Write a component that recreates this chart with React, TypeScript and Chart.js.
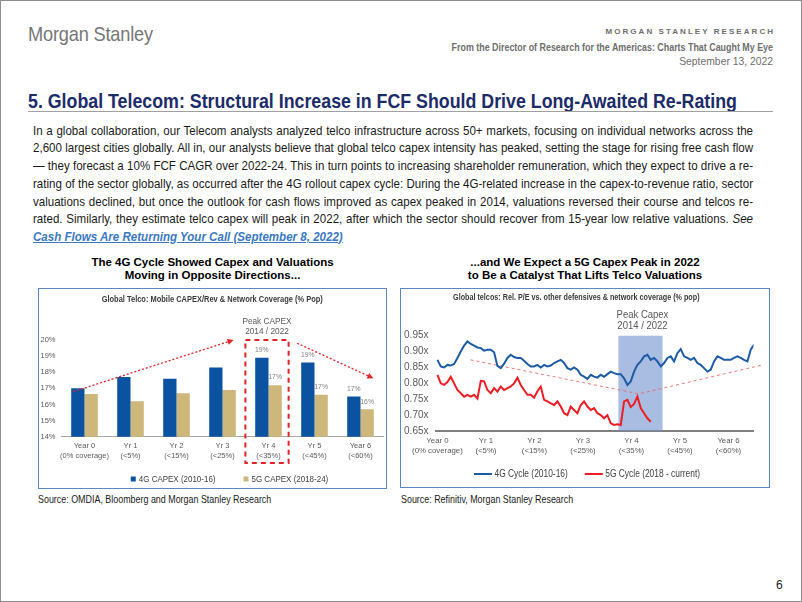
import React, { useEffect, useRef } from 'react';
import { Chart, registerables } from 'chart.js';

Chart.register(...registerables);

const SANS = '"Liberation Sans", Arial, sans-serif';
const GREY_TEXT = '#595959';
const RED = '#e3232a';

// ---------- Left chart: Global Telco Mobile CAPEX/Rev ----------
const CAPEX_TITLE = 'Global Telco: Mobile CAPEX/Rev & Network Coverage (% Pop)';
const CAPEX_CATEGORIES = [
  ['Year 0', '(0% coverage)'],
  ['Yr 1', '(<5%)'],
  ['Yr 2', '(<15%)'],
  ['Yr 3', '(<25%)'],
  ['Yr 4', '(<35%)'],
  ['Yr 5', '(<45%)'],
  ['Year 6', '(<60%)'],
];
const CAPEX_SERIES_NAMES = ['4G CAPEX (2010-16)', '5G CAPEX (2018-24)'];
const CAPEX_4G = [17.0, 17.7, 17.6, 18.3, 18.9, 18.6, 16.5];
const CAPEX_5G = [16.65, 16.2, 16.7, 16.9, 17.2, 16.6, 15.7];
const CAPEX_COLORS = ['#0b52a0', '#cdb77a'];
const CAPEX_Y_MIN = 14;
const CAPEX_Y_MAX = 20;
const CAPEX_LABEL_FROM = 4; // value labels shown from Yr 4 onwards
const CAPEX_PEAK_INDEX = 4;
const CAPEX_PEAK_TEXT = ['Peak CAPEX', '2014 / 2022'];
const CAPEX_ARROWS = [
  { from: [-0.24, 16.8], to: [3.24, 20.0] },
  { from: [4.62, 19.8], to: [6.28, 17.63] },
];

// ---------- Right chart: Rel. P/E ----------
const PE_TITLE = 'Global telcos: Rel. P/E vs. other defensives & network coverage (% pop)';
const PE_YEAR_LABELS = [
  ['Year 0', '(0% coverage)'],
  ['Yr 1', '(<5%)'],
  ['Yr 2', '(<15%)'],
  ['Yr 3', '(<25%)'],
  ['Yr 4', '(<35%)'],
  ['Yr 5', '(<45%)'],
  ['Year 6', '(<60%)'],
];
const PE_Y_TICKS = [0.65, 0.7, 0.75, 0.8, 0.85, 0.9, 0.95];
const PE_SERIES_NAMES = ['4G Cycle (2010-16)', '5G Cycle (2018 - current)'];
const PE_COLORS = ['#1d5ba6', '#ee1d24'];
const PE_STEP = 0.0687; // years between samples
const PE_4G = [
  0.874, 0.853, 0.850, 0.858, 0.856, 0.861, 0.880, 0.900, 0.919, 0.932,
  0.924, 0.919, 0.913, 0.911, 0.903, 0.906, 0.906, 0.898, 0.855, 0.848,
  0.862, 0.880, 0.890, 0.883, 0.880, 0.880, 0.871, 0.861, 0.853, 0.853,
  0.858,
  0.850, 0.858, 0.853, 0.856, 0.864, 0.869, 0.874, 0.864, 0.848, 0.843,
  0.850, 0.843, 0.827, 0.821, 0.814, 0.827, 0.821, 0.818, 0.827, 0.821,
  0.829, 0.837, 0.832, 0.829, 0.829, 0.816, 0.795, 0.806, 0.837, 0.858,
  0.869, 0.885, 0.890,
  0.874, 0.880, 0.869, 0.853, 0.864, 0.880, 0.885, 0.869, 0.895, 0.908,
  0.885, 0.880, 0.874, 0.880, 0.864, 0.858, 0.848, 0.837, 0.843, 0.869,
  0.885, 0.880, 0.874, 0.874, 0.874, 0.880, 0.885, 0.880, 0.874, 0.869,
  0.906, 0.922,
];
const PE_5G = [
  0.827, 0.800, 0.795, 0.804, 0.821, 0.800, 0.779, 0.769, 0.758, 0.764,
  0.758, 0.764, 0.752, 0.808, 0.806, 0.779, 0.769, 0.785, 0.774, 0.790,
  0.779, 0.785, 0.790, 0.800, 0.818, 0.795, 0.779, 0.764, 0.764, 0.755,
  0.775, 0.790,
  0.748, 0.743, 0.737, 0.732, 0.743, 0.727, 0.706, 0.700, 0.727, 0.716,
  0.706, 0.732, 0.743, 0.727, 0.716, 0.722, 0.706, 0.700, 0.690, 0.700,
  0.674, 0.669, 0.671, 0.669, 0.743, 0.748, 0.725, 0.735, 0.758, 0.722,
  0.706,
  0.690, 0.679,
];
const PE_PEAK_SPAN = [3.73, 4.64];
const PE_PEAK_TEXT = ['Peak Capex', '2014 / 2022'];
const PE_TREND = [
  [0.68, 0.874],
  [4.15, 0.767],
  [6.7, 0.858],
];

// ---------- Page text ----------
const BODY_LINES = [
  'In a global collaboration, our Telecom analysts analyzed telco infrastructure across 50+ markets, focusing on individual networks across the',
  '2,600 largest cities globally. All in, our analysts believe that global telco capex intensity has peaked, setting the stage for rising free cash flow',
  '\u2014 they forecast a 10% FCF CAGR over 2022-24. This in turn points to increasing shareholder remuneration, which they expect to drive a re-',
  'rating of the sector globally, as occurred after the 4G rollout capex cycle: During the 4G-related increase in the capex-to-revenue ratio, sector',
  'valuations declined, but once the outlook for cash flows improved as capex peaked in 2014, valuations reversed their course and telcos re-',
  'rated. Similarly, they estimate telco capex will peak in 2022, after which the sector should recover from 15-year low relative valuations.',
];
const LINK_TEXT = 'Cash Flows Are Returning Your Call (September 8, 2022)';

// condensed text on canvas (no narrow face installed)
function fillNarrow(ctx: any, text: string, x: number, y: number, font: string, sx: number, align: string) {
  ctx.save();
  ctx.font = font;
  ctx.textAlign = align;
  ctx.textBaseline = 'middle';
  ctx.translate(x, y);
  ctx.scale(sx, 1);
  ctx.fillText(text, 0, 0);
  ctx.restore();
}

function makeLegend(id: string, o: any) {
  return {
    id,
    afterDraw(chart: any) {
      const { ctx, chartArea } = chart;
      ctx.save();
      ctx.font = o.font;
      const items = chart.data.datasets.map((ds: any) => ({
        text: ds.label,
        color: o.symbol === 'line' ? ds.borderColor : ds.backgroundColor,
        w: ctx.measureText(ds.label).width * o.sx,
      }));
      const total =
        items.reduce((s: number, it: any) => s + o.symbolW + o.textGap + it.w, 0) +
        o.gap * (items.length - 1);
      let x = (chartArea.left + chartArea.right) / 2 + o.dx - total / 2;
      const y = chartArea.bottom + o.dy;
      items.forEach((it: any) => {
        if (o.symbol === 'line') {
          ctx.strokeStyle = it.color;
          ctx.lineWidth = 2;
          ctx.beginPath();
          ctx.moveTo(x, y);
          ctx.lineTo(x + o.symbolW, y);
          ctx.stroke();
        } else {
          ctx.fillStyle = it.color;
          ctx.fillRect(x, y - o.symbolW / 2, o.symbolW, o.symbolW);
        }
        x += o.symbolW + o.textGap;
        ctx.fillStyle = o.color;
        fillNarrow(ctx, it.text, x, y, o.font, o.sx, 'left');
        x += it.w + o.gap;
      });
      ctx.restore();
    },
  };
}

function makeTitle(id: string, text: string, cx: number, cy: number, sx: number) {
  return {
    id,
    afterDraw(chart: any) {
      const { ctx } = chart;
      ctx.save();
      ctx.fillStyle = '#3a3a3a';
      fillNarrow(ctx, text, cx, cy, `bold 9px ${SANS}`, sx, 'center');
      ctx.restore();
    },
  };
}

function drawArrow(ctx: any, x1: number, y1: number, x2: number, y2: number) {
  const dx = x2 - x1;
  const dy = y2 - y1;
  const len = Math.sqrt(dx * dx + dy * dy);
  const ux = dx / len;
  const uy = dy / len;
  const head = 6;
  ctx.save();
  ctx.strokeStyle = RED;
  ctx.fillStyle = RED;
  ctx.lineWidth = 1.3;
  ctx.setLineDash([2, 2]);
  ctx.beginPath();
  ctx.moveTo(x1, y1);
  ctx.lineTo(x2 - ux * head, y2 - uy * head);
  ctx.stroke();
  ctx.setLineDash([]);
  ctx.beginPath();
  ctx.moveTo(x2, y2);
  ctx.lineTo(x2 - ux * head - uy * 3, y2 - uy * head + ux * 3);
  ctx.lineTo(x2 - ux * head + uy * 3, y2 - uy * head - ux * 3);
  ctx.closePath();
  ctx.fill();
  ctx.restore();
}

const capexOverlay = {
  id: 'capexOverlay',
  afterDatasetsDraw(chart: any) {
    const { ctx, chartArea, scales } = chart;
    const xs = scales.x;
    const ys = scales.y;
    ctx.save();
    ctx.fillStyle = '#7f7f7f';
    chart.data.datasets.forEach((ds: any, di: number) => {
      const meta = chart.getDatasetMeta(di);
      meta.data.forEach((bar: any, i: number) => {
        if (i < CAPEX_LABEL_FROM) return;
        fillNarrow(ctx, Math.round(ds.data[i]) + '%', bar.x, bar.y - 8, `8px ${SANS}`, 0.85, 'center');
      });
    });
    const cx = xs.getPixelForValue(CAPEX_PEAK_INDEX) - 1.5;
    const half = (xs.getPixelForValue(1) - xs.getPixelForValue(0)) * 0.47;
    const top = ys.getPixelForValue(CAPEX_Y_MAX);
    const bottom = chartArea.bottom + 26.3;
    ctx.strokeStyle = RED;
    ctx.lineWidth = 2;
    ctx.setLineDash([5, 4]);
    ctx.strokeRect(cx - half, top, half * 2, bottom - top);
    ctx.setLineDash([]);
    ctx.fillStyle = GREY_TEXT;
    fillNarrow(ctx, CAPEX_PEAK_TEXT[0], cx, top - 18, `9px ${SANS}`, 0.92, 'center');
    fillNarrow(ctx, CAPEX_PEAK_TEXT[1], cx, top - 8, `9px ${SANS}`, 0.92, 'center');
    ctx.restore();
    CAPEX_ARROWS.forEach((a) => {
      drawArrow(
        ctx,
        xs.getPixelForValue(a.from[0]),
        ys.getPixelForValue(a.from[1]),
        xs.getPixelForValue(a.to[0]),
        ys.getPixelForValue(a.to[1])
      );
    });
  },
};

const peOverlay = {
  id: 'peOverlay',
  beforeDatasetsDraw(chart: any) {
    const { ctx, chartArea, scales } = chart;
    const xs = scales.x;
    const ys = scales.y;
    ctx.save();
    const x1 = xs.getPixelForValue(PE_PEAK_SPAN[0]);
    const x2 = xs.getPixelForValue(PE_PEAK_SPAN[1]);
    const top = ys.getPixelForValue(ys.max);
    ctx.fillStyle = 'rgba(112,144,206,0.6)';
    ctx.fillRect(x1, top, x2 - x1, chartArea.bottom - top);
    ctx.strokeStyle = 'rgba(236,96,96,0.85)';
    ctx.lineWidth = 1;
    ctx.setLineDash([3, 3]);
    ctx.beginPath();
    PE_TREND.forEach((p, i) => {
      const px = xs.getPixelForValue(p[0]);
      const py = ys.getPixelForValue(p[1]);
      if (i === 0) ctx.moveTo(px, py);
      else ctx.lineTo(px, py);
    });
    ctx.stroke();
    ctx.setLineDash([]);
    ctx.fillStyle = GREY_TEXT;
    const cx = (x1 + x2) / 2 + 2;
    fillNarrow(ctx, PE_PEAK_TEXT[0], cx, top - 20.7, `10px ${SANS}`, 0.95, 'center');
    fillNarrow(ctx, PE_PEAK_TEXT[1], cx, top - 9.7, `10px ${SANS}`, 0.95, 'center');
    ctx.restore();
  },
};

const capexLegend = makeLegend('capexLegend', {
  dy: 42.3,
  dx: 7,
  font: `9.5px ${SANS}`,
  sx: 0.84,
  color: '#404040',
  gap: 28,
  symbol: 'square',
  symbolW: 5,
  textGap: 3,
});

const peLegend = makeLegend('peLegend', {
  dy: 43,
  dx: -7.5,
  font: `10px ${SANS}`,
  sx: 0.84,
  color: '#404040',
  gap: 17,
  symbol: 'line',
  symbolW: 18,
  textGap: 2.5,
});

const capexTitle = makeTitle('capexTitle', CAPEX_TITLE, 173.2, 11, 0.83);
const peTitle = makeTitle('peTitle', PE_TITLE, 177.3, 8, 0.8);

function CapexChart() {
  const ref = useRef<HTMLCanvasElement | null>(null);
  useEffect(() => {
    if (!ref.current) return;
    const chart = new Chart(ref.current, {
      type: 'bar',
      data: {
        labels: CAPEX_CATEGORIES as any,
        datasets: [
          {
            label: CAPEX_SERIES_NAMES[0],
            data: CAPEX_4G,
            backgroundColor: CAPEX_COLORS[0],
            categoryPercentage: 0.578,
            barPercentage: 1,
          },
          {
            label: CAPEX_SERIES_NAMES[1],
            data: CAPEX_5G,
            backgroundColor: CAPEX_COLORS[1],
            categoryPercentage: 0.578,
            barPercentage: 1,
          },
        ],
      },
      options: {
        responsive: false,
        animation: false,
        layout: { padding: { left: 0, right: 2.5, top: 51, bottom: 20 } },
        plugins: {
          legend: { display: false },
          tooltip: { enabled: false },
          title: { display: false },
        },
        scales: {
          x: {
            grid: { display: false, drawTicks: false },
            border: { display: true, color: '#a6a6a6', width: 1 },
            ticks: {
              color: GREY_TEXT,
              font: { family: SANS, size: 7.5, lineHeight: 1.28 },
              padding: 4.5,
              autoSkip: false,
              maxRotation: 0,
            },
            afterFit: (s: any) => {
              s.height = 30.3;
            },
          },
          y: {
            min: CAPEX_Y_MIN,
            max: CAPEX_Y_MAX,
            grid: { display: false, drawTicks: false },
            border: { display: false },
            ticks: {
              stepSize: 1,
              color: GREY_TEXT,
              font: { family: SANS, size: 7.5 },
              padding: 6,
              callback: (v: any) => v + '%',
            },
            afterFit: (s: any) => {
              s.width = 22.5;
            },
          },
        },
      } as any,
      plugins: [capexOverlay, capexLegend, capexTitle],
    });
    return () => chart.destroy();
  }, []);
  return <canvas ref={ref} width={347} height={198} style={{ width: 347, height: 198, display: 'block' }} />;
}

function PeChart() {
  const ref = useRef<HTMLCanvasElement | null>(null);
  useEffect(() => {
    if (!ref.current) return;
    const chart = new Chart(ref.current, {
      type: 'line',
      data: {
        datasets: [
          {
            label: PE_SERIES_NAMES[0],
            data: PE_4G.map((v, i) => ({ x: i * PE_STEP, y: v })),
            borderColor: PE_COLORS[0],
            backgroundColor: PE_COLORS[0],
            borderWidth: 2,
            pointRadius: 0,
            tension: 0,
            fill: false,
          },
          {
            label: PE_SERIES_NAMES[1],
            data: PE_5G.map((v, i) => ({ x: i * PE_STEP, y: v })),
            borderColor: PE_COLORS[1],
            backgroundColor: PE_COLORS[1],
            borderWidth: 2,
            pointRadius: 0,
            tension: 0,
            fill: false,
          },
        ],
      },
      options: {
        responsive: false,
        animation: false,
        layout: { padding: { left: 0, right: 17.5, top: 45.7, bottom: 29 } },
        plugins: {
          legend: { display: false },
          tooltip: { enabled: false },
          title: { display: false },
        },
        scales: {
          x: {
            type: 'linear',
            min: -0.04,
            max: 6.515,
            afterBuildTicks: (s: any) => {
              s.ticks = PE_YEAR_LABELS.map((_, i) => ({ value: i }));
            },
            grid: { display: false, drawTicks: false },
            border: { display: true, color: '#808080', width: 2 },
            ticks: {
              color: GREY_TEXT,
              font: { family: SANS, size: 7.8, lineHeight: 1.28 },
              padding: 5,
              autoSkip: false,
              maxRotation: 0,
              callback: (v: any) => PE_YEAR_LABELS[Math.round(v)],
            },
            afterFit: (s: any) => {
              s.height = 30;
            },
          },
          y: {
            min: PE_Y_TICKS[0],
            max: PE_Y_TICKS[PE_Y_TICKS.length - 1],
            afterBuildTicks: (s: any) => {
              s.ticks = PE_Y_TICKS.map((v) => ({ value: v }));
            },
            grid: { display: false, drawTicks: false },
            border: { display: false },
            ticks: {
              color: GREY_TEXT,
              font: { family: SANS, size: 10 },
              padding: 7,
              callback: (v: any) => Number(v).toFixed(2) + 'x',
            },
            afterFit: (s: any) => {
              s.width = 36.5;
            },
          },
        },
      } as any,
      plugins: [peOverlay, peLegend, peTitle],
    });
    return () => chart.destroy();
  }, []);
  return <canvas ref={ref} width={372} height={200} style={{ width: 372, height: 200, display: 'block' }} />;
}

const abs = (left: number, top: number, extra: any = {}) => ({ position: 'absolute' as const, left, top, ...extra });

const BODY_SX = 0.85;
const BODY_FONT = 13.6;

export default function App() {
  const headerGrey = '#6e6e6e';
  return (
    <div
      style={{
        position: 'absolute',
        left: 0,
        top: 0,
        width: 802,
        height: 602,
        background: '#fff',
        overflow: 'hidden',
        fontFamily: SANS,
        color: '#1a1a1a',
      }}
    >
      <div style={{ position: 'absolute', left: 0, top: 0, width: 802, height: 602, boxSizing: 'border-box', border: '1px solid #8c8c8c' }} />
      {/* header */}
      <div style={abs(28, 21, { fontSize: 21, lineHeight: '26px', color: '#767676', letterSpacing: '-0.2px', whiteSpace: 'nowrap', transform: 'scaleX(0.866)', transformOrigin: 'left center' })}>
        Morgan Stanley
      </div>
      <div style={abs(0, 26.7, { width: 773 + 2.05, textAlign: 'right', fontSize: 8, fontWeight: 'bold', letterSpacing: '2.05px', lineHeight: '10px', color: headerGrey, whiteSpace: 'nowrap' })}>
        MORGAN STANLEY RESEARCH
      </div>
      <div style={abs(0, 40.5, { width: 773, textAlign: 'right', fontSize: 10.5, fontWeight: 'bold', lineHeight: '13px', color: headerGrey, whiteSpace: 'nowrap', transform: 'scaleX(0.847)', transformOrigin: '773px center' })}>
        From the Director of Research for the Americas: Charts That Caught My Eye
      </div>
      <div style={abs(0, 54.5, { width: 773, textAlign: 'right', fontSize: 11.5, lineHeight: '13px', color: headerGrey, whiteSpace: 'nowrap', transform: 'scaleX(0.9)', transformOrigin: '773px center' })}>
        September 13, 2022
      </div>
      {/* title */}
      <div style={abs(28, 87.5, { fontSize: 21, fontWeight: 'bold', lineHeight: '25px', color: '#1c2b69', whiteSpace: 'nowrap', transform: 'scaleX(0.847)', transformOrigin: 'left center' })}>
        5. Global Telecom: Structural Increase in FCF Should Drive Long-Awaited Re-Rating
      </div>
      <div style={abs(28, 111, { width: 745, height: 1, background: '#a0a0a0' })} />
      {/* body */}
      {BODY_LINES.map((line, i) => (
        <div
          key={i}
          style={abs(33, 121.7 + i * 17.7, {
            width: 720 / BODY_SX,
            fontSize: BODY_FONT,
            lineHeight: '17.7px',
            textAlign: 'justify',
            textAlignLast: 'justify',
            whiteSpace: 'nowrap',
            transform: `scaleX(${BODY_SX})`,
            transformOrigin: 'left center',
          })}
        >
          {line}
          {i === BODY_LINES.length - 1 ? (
            <>
              {' '}
              <i>See</i>
            </>
          ) : null}
        </div>
      ))}
      <div
        style={abs(33, 121.7 + 6 * 17.7, {
          fontSize: BODY_FONT,
          lineHeight: '17.7px',
          fontWeight: 'bold',
          fontStyle: 'italic',
          textDecoration: 'underline',
          color: '#3a78c2',
          whiteSpace: 'nowrap',
          transform: `scaleX(${BODY_SX})`,
          transformOrigin: 'left center',
        })}
      >
        {LINK_TEXT}
      </div>
      {/* chart titles */}
      <div style={abs(38, 256, { width: 349, textAlign: 'center', fontSize: 11.5, fontWeight: 'bold', lineHeight: '13.3px', color: '#000' })}>
        The 4G Cycle Showed Capex and Valuations
        <br />
        Moving in Opposite Directions...
      </div>
      <div style={abs(400, 256, { width: 370, textAlign: 'center', fontSize: 11.5, fontWeight: 'bold', lineHeight: '13.3px', color: '#000' })}>
        ...and We Expect a 5G Capex Peak in 2022
        <br />
        to Be a Catalyst That Lifts Telco Valuations
      </div>
      {/* chart boxes */}
      <div style={abs(38, 287.5, { width: 349, height: 201, boxSizing: 'border-box', border: '1.5px solid #5a88bf' })} />
      <div style={abs(400, 288, { width: 370, height: 200, boxSizing: 'border-box', border: '1.5px solid #5a88bf' })} />
      <div style={abs(39, 289)}>
        <CapexChart />
      </div>
      <div style={abs(398.5, 290)}>
        <PeChart />
      </div>
      {/* sources */}
      <div style={abs(38, 492.5, { fontSize: 11, lineHeight: '13px', whiteSpace: 'nowrap', transform: 'scaleX(0.81)', transformOrigin: 'left center' })}>
        Source: OMDIA, Bloomberg and Morgan Stanley Research
      </div>
      <div style={abs(400.5, 492.5, { fontSize: 11, lineHeight: '13px', whiteSpace: 'nowrap', transform: 'scaleX(0.81)', transformOrigin: 'left center' })}>
        Source: Refinitiv, Morgan Stanley Research
      </div>
      <div style={abs(776, 578, { fontSize: 12, lineHeight: '14px', whiteSpace: 'nowrap' })}>6</div>
    </div>
  );
}
